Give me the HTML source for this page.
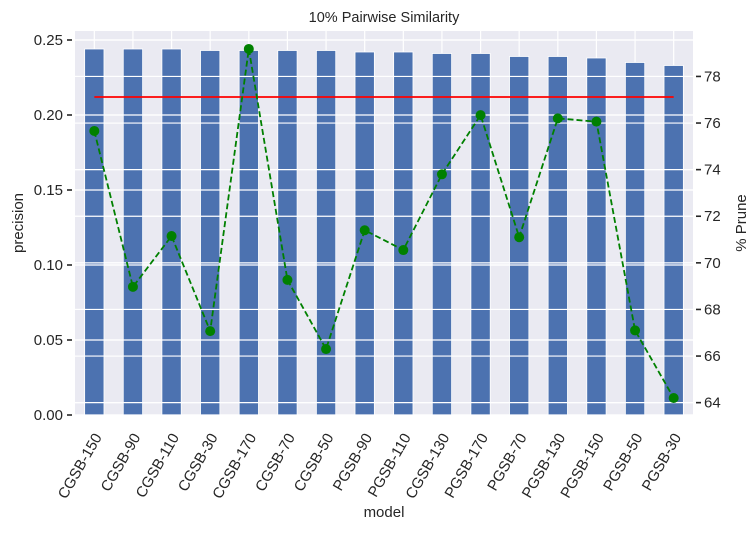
<!DOCTYPE html>
<html><head><meta charset="utf-8"><style>
body{margin:0;background:#fff;}
svg text{font-family:"Liberation Sans",Arial,sans-serif;fill:#262626;}
</style></head><body>
<svg id="c" width="754" height="530"></svg>
<script>
const categories=["CGSB-150","CGSB-90","CGSB-110","CGSB-30","CGSB-170","CGSB-70","CGSB-50","PGSB-90","PGSB-110","CGSB-130","PGSB-170","PGSB-70","PGSB-130","PGSB-150","PGSB-50","PGSB-30"];
const precision=[0.244,0.244,0.244,0.243,0.243,0.243,0.243,0.242,0.242,0.241,0.241,0.239,0.239,0.238,0.235,0.233];
const prune=[75.66,68.97,71.15,67.07,79.18,69.27,66.3,71.4,70.55,73.8,76.34,71.1,76.2,76.06,67.1,64.2];
const baseline=[0.212];
const leftTicks=[0,0.05,0.10,0.15,0.20,0.25];
const rightTicks=[64,66,68,70,72,74,76,78];
const NS="http://www.w3.org/2000/svg";
const svg=document.getElementById('c');
const L=75,R=693,T=31,B=415;
const bw=(R-L)/categories.length;
const xc=i=>L+bw*(i+0.5);
const yl=v=>B-(v-0)/(0.256)*(B-T);
const yr=v=>B-(v-63.47)/(79.95-63.47)*(B-T);
function mk(t,a){const e=document.createElementNS(NS,t);for(const k in a)e.setAttribute(k,a[k]);svg.appendChild(e);return e;}
let e=mk('rect',{x:L,y:T,width:R-L,height:B-T,fill:'#eaeaf2'});


leftTicks.forEach(v=>{const y=yl(v);
 e=mk('line',{x1:L,x2:R,y1:y,y2:y,stroke:'#fff','stroke-width':1.2});
 
 
 e=mk('line',{x1:L-8,x2:L-3,y1:y,y2:y,stroke:'#262626','stroke-width':1.6});
 
 
 e=mk('text',{x:L-12,y:y+5,'text-anchor':'end','font-size':15});e.textContent=v.toFixed(2);
 
 
});
rightTicks.forEach(v=>{const y=yr(v);
 e=mk('line',{x1:L,x2:R,y1:y,y2:y,stroke:'#fff','stroke-width':1.2});
 
 
 e=mk('line',{x1:R+3,x2:R+8,y1:y,y2:y,stroke:'#262626','stroke-width':1.6});
 
 
 e=mk('text',{x:R+11,y:y+5,'font-size':15});e.textContent=v;
 
 
});
categories.forEach((c,i)=>{const x=xc(i);
 e=mk('line',{x1:x,x2:x,y1:T,y2:B,stroke:'#fff','stroke-width':1.2});
 
 
});
categories.forEach((c,i)=>{const x=xc(i);
 e=mk('rect',{x:x-bw/4,y:yl(precision[i]),width:bw/2,height:B-yl(precision[i]),fill:'#4c72b0',stroke:'#fff','stroke-width':0.8});
 
 
 e=mk('text',{x:0,y:0,'text-anchor':'end','font-size':15,transform:`translate(${x+8},${B+22}) rotate(-60)`});e.textContent=c;
 
 
});
[...rightTicks.map(yr),...leftTicks.map(yl)].forEach(y=>{
 e=mk('line',{x1:L,x2:R,y1:y,y2:y,stroke:'#fff','stroke-width':1.2});
 
 
});
e=mk('line',{x1:xc(0),x2:xc(categories.length-1),y1:yl(baseline[0]),y2:yl(baseline[0]),stroke:'#ff0000','stroke-width':1.8});


e=mk('polyline',{points:prune.map((v,i)=>xc(i)+','+yr(v)).join(' '),fill:'none',stroke:'#008000','stroke-width':1.8,'stroke-dasharray':'6,3'});


prune.forEach((v,i)=>{
 e=mk('circle',{cx:xc(i),cy:yr(v),r:5,fill:'#008000'});
 
 
});
e=mk('text',{x:384,y:22,'text-anchor':'middle','font-size':14.5});e.textContent='10% Pairwise Similarity';


e=mk('text',{x:0,y:0,'text-anchor':'middle','font-size':15,transform:`translate(23,${(T+B)/2}) rotate(-90)`});e.textContent='precision';


e=mk('text',{x:0,y:0,'text-anchor':'middle','font-size':15,transform:`translate(746,${(T+B)/2}) rotate(-90)`});e.textContent='% Prune';


e=mk('text',{x:(L+R)/2,y:517,'text-anchor':'middle','font-size':15});e.textContent='model';


</script>
</body></html>
